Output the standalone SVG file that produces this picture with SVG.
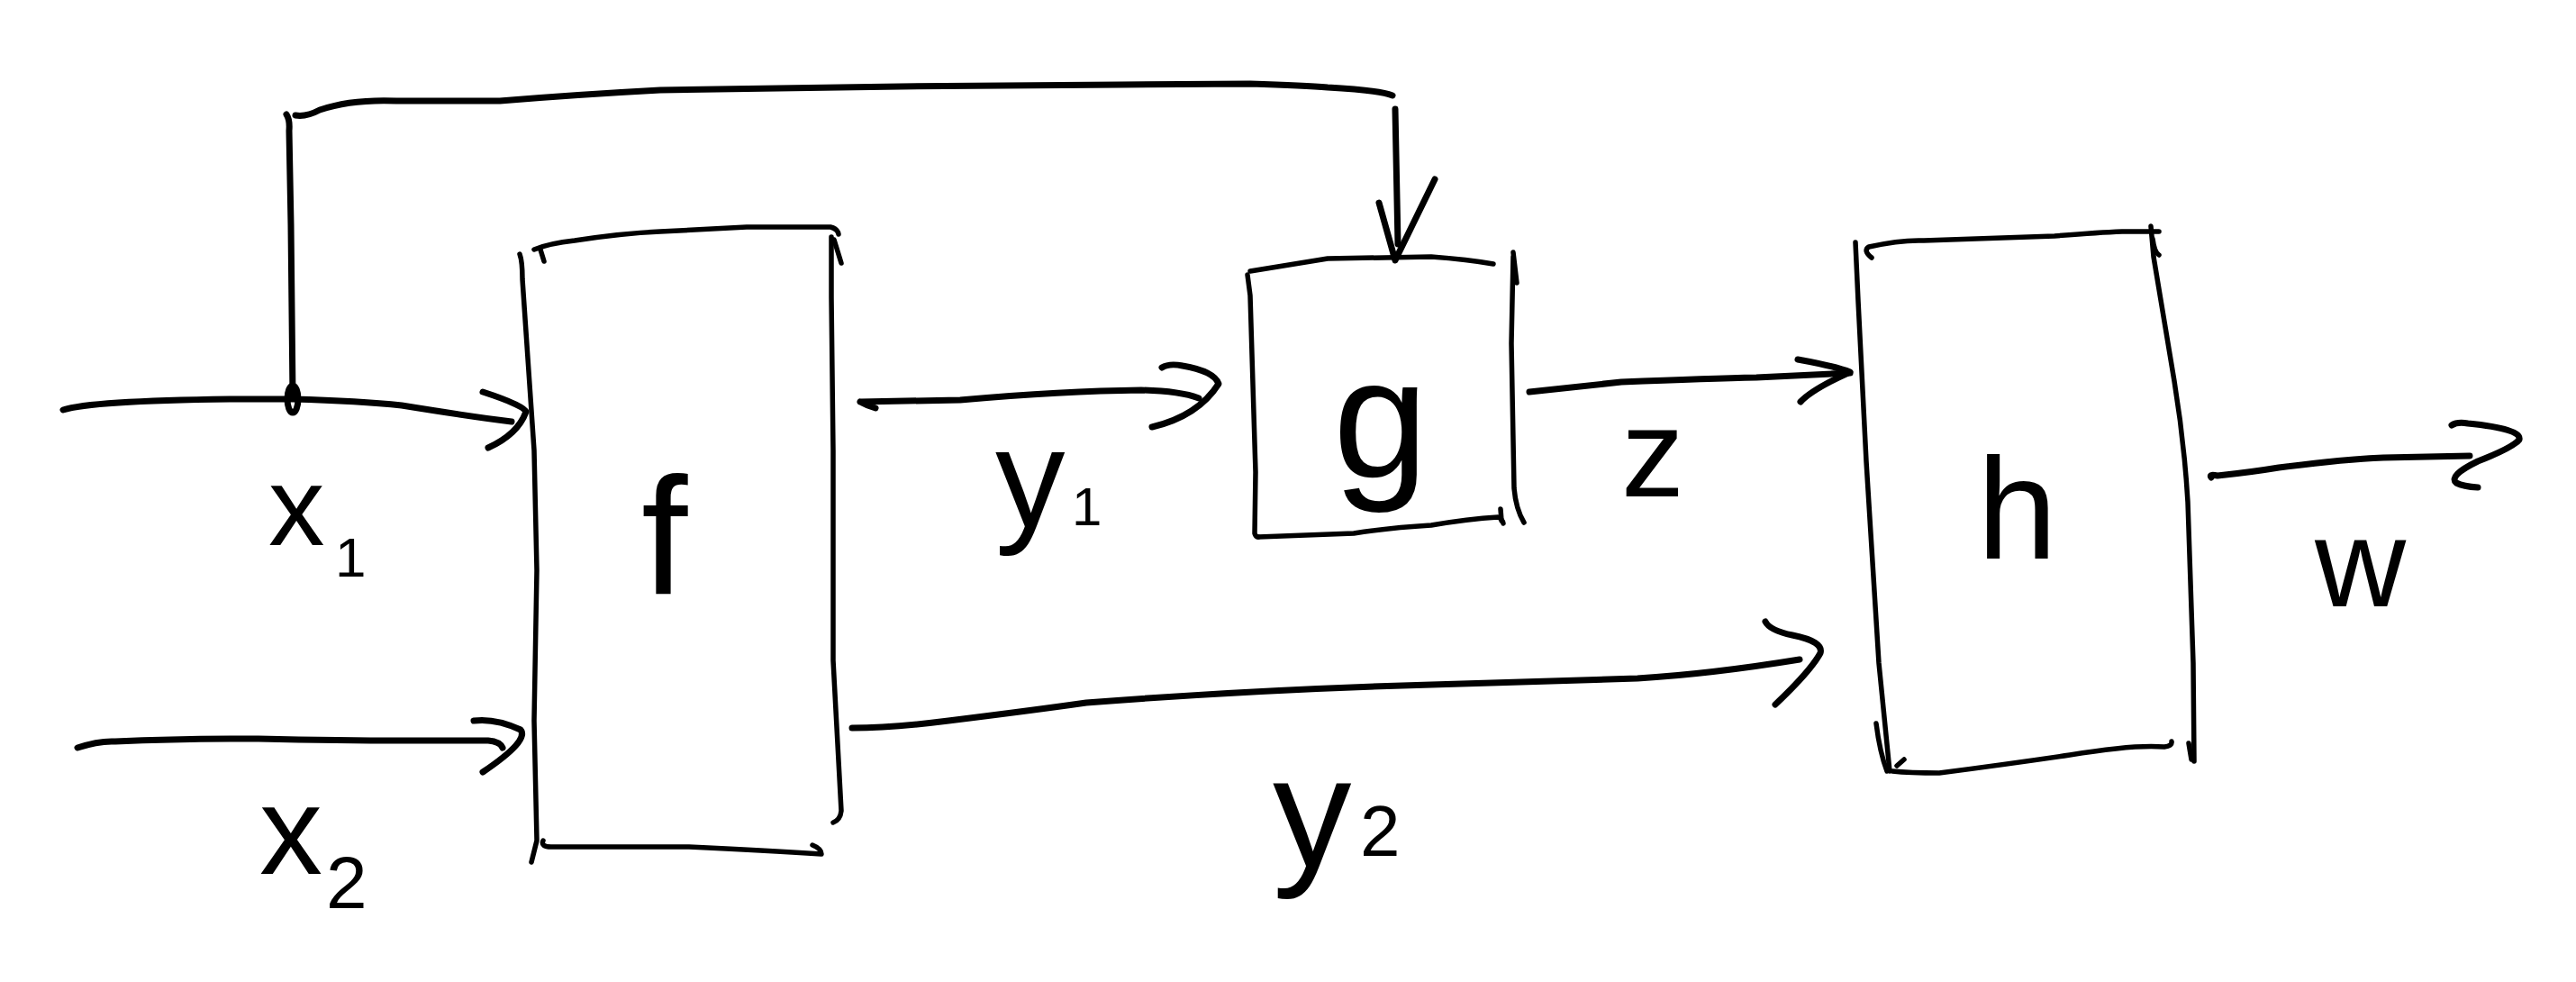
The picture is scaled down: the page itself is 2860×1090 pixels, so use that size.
<svg xmlns="http://www.w3.org/2000/svg" width="2860" height="1090" viewBox="0 0 2860 1090">
<style>
  .box { fill: none; stroke: #000; stroke-width: 5.5; stroke-linecap: round; stroke-linejoin: round; }
  .wire { fill: none; stroke: #000; stroke-width: 7; stroke-linecap: round; stroke-linejoin: round; }
  .head { fill: none; stroke: #000; stroke-width: 7; stroke-linecap: round; stroke-linejoin: round; }
  .lbl { font-family: "Liberation Sans", "DejaVu Sans", sans-serif; fill: #000; }
</style>
<rect width="2860" height="1090" fill="#fff"/>

<g id="connectors">
  <g id="conn-x1">
    <path class="wire" d="M 70,455 Q 100,445 255,443 L 325,443 Q 400,445 446,450 Q 520,462 568,468"/>
    <path class="head" d="M 536,435 Q 582,450 584,457 Q 575,482 542,497"/>
    <text class="lbl" x="298" y="605" font-size="125">x</text>
    <text class="lbl" x="372" y="640" font-size="62">1</text>
  </g>
  <g id="conn-x2">
    <path class="wire" d="M 86,830 Q 110,822 128,823 Q 200,820 287,820 Q 380,822 446,822 L 542,822 Q 555,823 558,830"/>
    <path class="head" d="M 526,800 Q 550,797 578,810 Q 588,822 536,857"/>
    <text class="lbl" x="288" y="970" font-size="140">x</text>
    <text class="lbl" x="362" y="1008" font-size="82">2</text>
  </g>
  <g id="conn-feedback">
    <path class="wire" d="M 318,127 Q 322,133 321,145 L 323,250 L 325,440"/>
    <ellipse cx="325" cy="443" rx="6" ry="15" fill="none" stroke="#000" stroke-width="7"/>
    <path class="wire" d="M 328,128 Q 340,130 355,122 Q 390,110 440,112 L 555,112 Q 640,105 733,100 L 1000,96 L 1244,94 L 1388,93 Q 1450,95 1474,97 Q 1530,100 1546,106"/>
    <path class="wire" d="M 1549,121 L 1552,271"/>
    <path class="head" d="M 1531,225 L 1549,289 L 1593,199"/>
  </g>
  <g id="conn-y1">
    <path class="wire" d="M 955,446 Q 962,450 972,453 M 955,446 L 1066,444 Q 1180,434 1267,433 Q 1310,434 1331,442"/>
    <path class="head" d="M 1290,408 Q 1298,403 1313,406 Q 1348,412 1353,426 Q 1330,462 1279,474"/>
    <text class="lbl" x="1105" y="585" font-size="155">y</text>
    <text class="lbl" x="1190" y="583" font-size="60">1</text>
  </g>
  <g id="conn-z">
    <path class="wire" d="M 1698,435 L 1800,424 Q 1900,420 1950,419 L 2054,414"/>
    <path class="head" d="M 1996,399 Q 2040,407 2054,413 Q 2012,432 1999,446"/>
    <text class="lbl" x="1800" y="551" font-size="140">z</text>
  </g>
  <g id="conn-y2">
    <path class="wire" d="M 946,808 Q 990,808 1053,800 Q 1150,788 1206,780 Q 1400,765 1589,760 L 1818,753 Q 1900,748 1998,732"/>
    <path class="head" d="M 1960,690 Q 1965,700 1990,705 Q 2025,712 2021,725 Q 2010,745 1971,782"/>
    <text class="lbl" x="1413" y="962" font-size="175">y</text>
    <text class="lbl" x="1510" y="950" font-size="80">2</text>
  </g>
  <g id="conn-w">
    <path class="wire" d="M 2455,530 Q 2452,526 2462,528 Q 2500,524 2530,519 Q 2600,510 2646,508 L 2742,506"/>
    <path class="head" d="M 2722,472 Q 2728,468 2740,470 Q 2800,476 2797,488 Q 2790,497 2751,512 Q 2718,528 2727,536 Q 2735,540 2751,541"/>
    <text class="lbl" x="2570" y="673" font-size="140">w</text>
  </g>
</g>

<g id="node-f">
  <path class="box" d="M 577,282 Q 580,290 580,310 L 593,500 L 596,633 L 593,800 L 596,933 L 590,957"/>
  <path class="box" d="M 593,277 Q 610,270 638,267 Q 690,259 733,257 L 829,252 L 922,252 Q 930,254 931,260"/>
  <path class="box" d="M 600,277 L 604,290"/>
  <path class="box" d="M 923,263 L 923,330 L 925,500 L 925,733 L 934,900 Q 933,910 925,913"/>
  <path class="box" d="M 926,266 L 934,292"/>
  <path class="box" d="M 603,933 Q 600,940 612,940 L 765,940 Q 850,944 912,948 Q 912,942 902,938"/>
  <text class="lbl" x="712" y="660" font-size="185">f</text>
</g>

<g id="node-g">
  <path class="box" d="M 1388,301 Q 1430,294 1474,287 L 1589,285 Q 1630,288 1658,293"/>
  <path class="box" d="M 1385,305 L 1388,328 L 1394,524 L 1393,592 Q 1394,596 1397,596"/>
  <path class="box" d="M 1397,596 L 1503,592 Q 1540,586 1589,583 Q 1630,576 1663,574 Q 1668,576 1669,581"/>
  <path class="box" d="M 1666,565 L 1667,578"/>
  <path class="box" d="M 1680,280 L 1684,314 M 1680,285 L 1678,381 L 1681,542 Q 1683,565 1692,580"/>
  <text class="lbl" x="1480" y="530" font-size="190">g</text>
</g>

<g id="node-h">
  <path class="box" d="M 2078,286 Q 2068,278 2075,274 Q 2110,266 2136,267 L 2281,262 Q 2330,258 2356,257 L 2397,257"/>
  <path class="box" d="M 2060,269 L 2063,334 L 2072,512 L 2086,736 L 2098,856"/>
  <path class="box" d="M 2083,803 Q 2087,835 2095,856"/>
  <path class="box" d="M 2101,856 Q 2120,858 2153,858 Q 2230,848 2298,838 Q 2370,826 2403,829 Q 2412,828 2411,823"/>
  <path class="box" d="M 2106,850 L 2114,843"/>
  <path class="box" d="M 2388,251 L 2391,285 L 2414,423 Q 2425,490 2429,557 L 2435,736 L 2436,845"/>
  <path class="box" d="M 2390,265 Q 2392,280 2397,283"/>
  <path class="box" d="M 2430,825 L 2433,843"/>
  <text class="lbl" x="2195" y="620" font-size="160">h</text>
</g>
</svg>
